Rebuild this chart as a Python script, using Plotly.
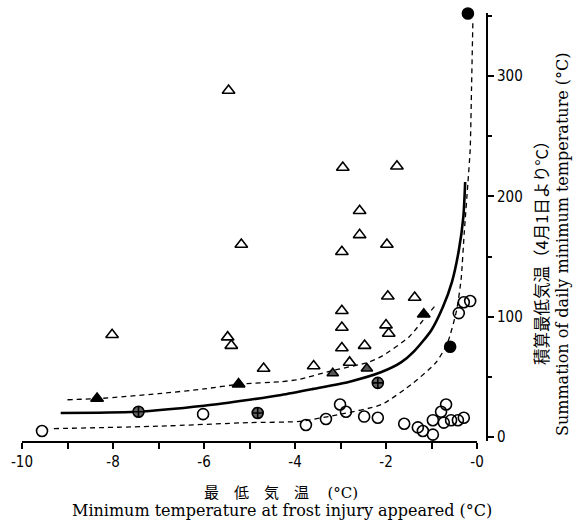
import plotly.graph_objects as go

# ---- data ----
open_tri_x = [-5.46, -8.02, -5.48, -5.40, -4.69, -5.18, -2.95, -1.76, -2.58, -2.58, -2.97,
              -1.98, -1.96, -1.37, -2.97, -2.97, -2.00, -1.94, -2.97, -2.47, -3.59, -2.80]
open_tri_y = [288, 85, 83, 76, 57, 160, 224, 225, 188, 168, 154,
              160, 117, 116, 105, 91, 93, 86, 74, 76, 59, 62]

filled_tri_x = [-8.35, -5.24, -1.17]
filled_tri_y = [32, 44, 102]

hatched_tri_x = [-3.17, -2.42]
hatched_tri_y = [53, 57]

open_circ_x = [-9.56, -6.02, -3.76, -3.32, -3.01, -2.88, -2.48, -2.18, -1.60, -1.30, -1.19,
               -0.97, -0.97, -0.79, -0.68, -0.73, -0.57, -0.42, -0.29, -0.40, -0.29, -0.15]
open_circ_y = [5, 19, 10, 15, 27, 21, 17, 16, 11, 8, 5,
               2, 14, 21, 27, 12, 14, 14, 16, 103, 112, 113]

filled_circ_x = [-0.59, -0.20]
filled_circ_y = [75, 352]

hatched_circ_x = [-7.44, -4.82, -2.18]
hatched_circ_y = [21, 20, 45]

solid_x = [-9.15, -7.5, -6.0, -5.0, -4.3, -3.6, -2.8, -2.1, -1.67, -1.39, -1.0, -0.75, -0.55, -0.4, -0.3, -0.26]
solid_y = [20, 21, 26, 31, 35, 40, 46, 54, 62, 71, 89, 108, 129, 155, 183, 212]

upper_x = [-9.0, -8.3, -7.0, -6.0, -5.2, -4.3, -3.9, -3.2, -2.4, -2.1, -1.5, -1.1, -0.9]
upper_y = [31, 32, 36, 40, 44, 46, 48, 55, 62, 67, 83, 101, 110]

lower_x = [-9.3, -7.0, -5.0, -3.9, -3.0, -2.1, -1.4, -0.9, -0.65, -0.45, -0.35, -0.28, -0.2, -0.15, -0.12, -0.09]
lower_y = [7, 9, 12, 13, 19, 27, 45, 62, 78, 105, 131, 170, 211, 239, 290, 347]

x_tickvals = [-10, -8, -6, -4, -2, 0]
x_ticktext = ["-10", "-8", "-6", "-4", "-2", "-0"]
y_tickvals = [0, 100, 200, 300]

W, H = 578, 523
L, R, T, B = 22, 91, 13, 82
PW, PH = W - L - R, H - T - B

def px(xp):
    return (xp - L) / PW

def py(yp):
    return (H - B - yp) / PH

fig = go.Figure()

fig.add_trace(go.Scatter(x=lower_x, y=lower_y, mode="lines",
                         line=dict(color="black", width=1.3, dash="5px,4px", shape="spline", smoothing=0.6)))
fig.add_trace(go.Scatter(x=upper_x, y=upper_y, mode="lines",
                         line=dict(color="black", width=1.3, dash="5px,4px", shape="spline", smoothing=0.6)))
fig.add_trace(go.Scatter(x=solid_x, y=solid_y, mode="lines",
                         line=dict(color="black", width=2.6, shape="spline", smoothing=0.7)))

mk_line = dict(color="black", width=1.6)
fig.add_trace(go.Scatter(x=open_tri_x, y=open_tri_y, mode="markers", cliponaxis=False,
                         marker=dict(symbol="triangle-up", size=11, color="white", line=mk_line)))
fig.add_trace(go.Scatter(x=filled_tri_x, y=filled_tri_y, mode="markers", cliponaxis=False,
                         marker=dict(symbol="triangle-up", size=11, color="black", line=mk_line)))
fig.add_trace(go.Scatter(x=hatched_tri_x, y=hatched_tri_y, mode="markers", cliponaxis=False,
                         marker=dict(symbol="triangle-up", size=10, color="#555555", line=mk_line)))
fig.add_trace(go.Scatter(x=open_circ_x, y=open_circ_y, mode="markers", cliponaxis=False,
                         marker=dict(symbol="circle", size=11, color="rgba(255,255,255,0)", line=mk_line)))
fig.add_trace(go.Scatter(x=filled_circ_x, y=filled_circ_y, mode="markers", cliponaxis=False,
                         marker=dict(symbol="circle", size=11, color="black", line=mk_line)))
fig.add_trace(go.Scatter(x=hatched_circ_x, y=hatched_circ_y, mode="markers", cliponaxis=False,
                         marker=dict(symbol="circle-cross", size=11, color="#666666",
                                     line=dict(color="black", width=1.6))))

tick_font = dict(family="Liberation Sans Narrow, DejaVu Sans Condensed, Liberation Sans, sans-serif",
                 size=15, color="black")

fig.update_layout(
    width=W, height=H,
    margin=dict(l=L, r=R, t=T, b=B),
    paper_bgcolor="white", plot_bgcolor="white",
    showlegend=False,
    xaxis=dict(domain=[0, (477 - L) / PW], range=[-10, 0],
               tickvals=x_tickvals, ticktext=x_ticktext,
               ticks="outside", ticklen=6, tickwidth=1.5, tickcolor="black",
               minor=dict(dtick=1, ticks="outside", ticklen=6, tickwidth=1.5, tickcolor="black"),
               showline=True, linecolor="black", linewidth=2,
               showgrid=False, zeroline=False, tickfont=tick_font),
    yaxis=dict(range=[-3.3, 352.4], anchor="free", position=1.0, side="right",
               tickvals=y_tickvals,
               ticks="outside", ticklen=6, tickwidth=1.5, tickcolor="black",
               minor=dict(tickvals=[50, 150, 250, 350], ticks="outside", ticklen=4, tickwidth=1.5,
                          tickcolor="black"),
               showline=True, linecolor="black", linewidth=2,
               showgrid=False, zeroline=False, tickfont=tick_font),
)

serif = "DejaVu Serif, Liberation Serif, serif"
cjk = "Noto Sans CJK JP, sans-serif"

def note(text, xp, yp, font, angle=0):
    fig.add_annotation(text=text, x=px(xp), y=py(yp), xref="paper", yref="paper",
                       xanchor="center", yanchor="middle", textangle=angle,
                       showarrow=False, font=font)

note("最　低　気　温　 <span style='font-family:DejaVu Serif;font-size:15px'>(°C)</span>",
     281, 491, dict(family=cjk, size=15, color="black"))
note("Minimum temperature at frost injury appeared (°C)",
     282, 510, dict(family=serif, size=16, color="black"))
note("積算最低気温（4月1日より°C）",
     541, 249, dict(family=cjk, size=16.5, color="black"), -90)
note("Summation of daily minimum temperature (°C)",
     563, 244, dict(family=serif, size=16, color="black"), -90)

fig.write_html("out.html")
